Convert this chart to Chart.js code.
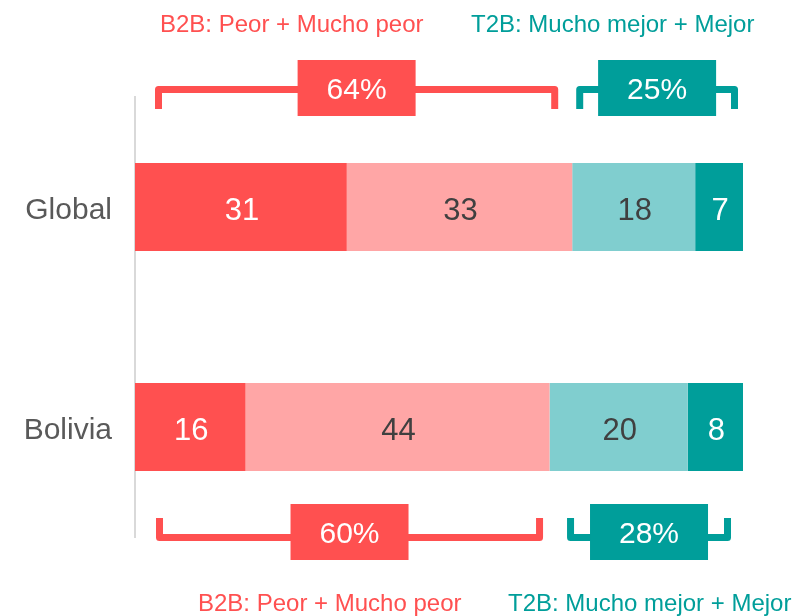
<!DOCTYPE html>
<html lang="es">
<head>
  <meta charset="UTF-8">
  <title>Global vs Bolivia</title>
  <script src="https://cdn.jsdelivr.net/npm/chart.js"></script>
  <style>
    html, body { margin: 0; padding: 0; background: #fff; }
    #wrap { width: 794px; height: 616px; }
  </style>
</head>
<body>
  <div id="wrap"><canvas id="chart" width="794" height="616"></canvas></div>

  <script>
    // values
    const categories = ['Global', 'Bolivia'];
    const seriesNames = ['Mucho peor', 'Peor', 'Mejor', 'Mucho mejor'];
    const muchoPeor = [31, 16];
    const peor = [33, 44];
    const mejor = [18, 20];
    const muchoMejor = [7, 8];
    const b2b = [64, 60];
    const t2b = [25, 28];

    const colors = ['#FF5050', '#FFA6A6', '#80CECF', '#009E9A'];
    const labelColors = ['#FFFFFF', '#404040', '#404040', '#FFFFFF'];
    const FONT = '"Liberation Sans", Arial, sans-serif';

    // each bar is drawn as a 100% stack of its row
    const series = [muchoPeor, peor, mejor, muchoMejor];
    const rowTotals = categories.map((c, i) => series.reduce((s, arr) => s + arr[i], 0));

    const datasets = series.map((arr, k) => ({
      label: seriesNames[k],
      data: arr.map((v, i) => v / rowTotals[i] * 100),
      raw: arr,
      backgroundColor: colors[k],
      borderWidth: 0,
      barPercentage: 0.4,
      categoryPercentage: 1
    }));

    // bracket offsets from segment edges (px), top one for Global, bottom one for Bolivia
    const bracketInsets = [
      { red: [23.5, -17.5], teal: [7.5, -8.5] },
      { red: [24.5, -10], teal: [21, -15.5] }
    ];

    function drawBracket(ctx, x1, x2, lineY, legY, color, text, boxCy) {
      ctx.save();
      ctx.strokeStyle = color;
      ctx.lineWidth = 7;
      ctx.lineJoin = 'round';
      ctx.beginPath();
      ctx.moveTo(x1, legY);
      ctx.lineTo(x1, lineY);
      ctx.lineTo(x2, lineY);
      ctx.lineTo(x2, legY);
      ctx.stroke();
      const cx = (x1 + x2) / 2;
      ctx.fillStyle = color;
      ctx.fillRect(cx - 59, boxCy - 28, 118, 56);
      ctx.fillStyle = '#FFFFFF';
      ctx.font = '30px ' + FONT;
      ctx.textAlign = 'center';
      ctx.textBaseline = 'alphabetic';
      ctx.fillText(text, cx, boxCy + 11);
      ctx.restore();
    }

    const overlay = {
      id: 'overlay',
      afterDatasetsDraw(chart) {
        const ctx = chart.ctx;
        // numbers inside segments
        ctx.save();
        ctx.font = '31px ' + FONT;
        ctx.textAlign = 'center';
        ctx.textBaseline = 'alphabetic';
        chart.data.datasets.forEach((ds, k) => {
          chart.getDatasetMeta(k).data.forEach((bar, i) => {
            const p = bar.getProps(['x', 'y', 'base'], true);
            ctx.fillStyle = labelColors[k];
            ctx.fillText(String(ds.raw[i]), (p.x + p.base) / 2 + 1, p.y + 13);
          });
        });
        ctx.restore();

        // brackets
        categories.forEach((c, i) => {
          const first = chart.getDatasetMeta(0).data[i].getProps(['x', 'y', 'base'], true);
          const mid = chart.getDatasetMeta(1).data[i].getProps(['x'], true);
          const last = chart.getDatasetMeta(3).data[i].getProps(['x'], true);
          const ins = bracketInsets[i];
          const above = i === 0;
          const lineY = above ? first.y - 117.5 : first.y + 110.5;
          const legY = above ? first.y - 98 : first.y + 91;
          const boxCy = above ? first.y - 119 : first.y + 105;
          drawBracket(ctx, first.base + ins.red[0], mid.x + ins.red[1], lineY, legY,
            colors[0], b2b[i] + '%', boxCy);
          drawBracket(ctx, mid.x + ins.teal[0], last.x + ins.teal[1], lineY, legY,
            colors[3], t2b[i] + '%', boxCy);
        });

        // group captions
        ctx.save();
        ctx.font = '24px ' + FONT;
        ctx.textAlign = 'left';
        ctx.textBaseline = 'alphabetic';
        ctx.fillStyle = colors[0];
        ctx.fillText('B2B: Peor + Mucho peor', 160, 32);
        ctx.fillText('B2B: Peor + Mucho peor', 198, 611);
        ctx.fillStyle = colors[3];
        ctx.fillText('T2B: Mucho mejor + Mejor', 471, 32);
        ctx.fillText('T2B: Mucho mejor + Mejor', 508, 611);
        ctx.restore();
      }
    };

    new Chart(document.getElementById('chart'), {
      type: 'bar',
      data: { labels: categories, datasets: datasets },
      options: {
        indexAxis: 'y',
        responsive: false,
        animation: false,
        devicePixelRatio: 1,
        layout: { padding: { top: 97, bottom: 79, right: 51, left: 0 } },
        plugins: { legend: { display: false }, tooltip: { enabled: false } },
        scales: {
          x: { stacked: true, display: false, min: 0, max: 100 },
          y: {
            stacked: true,
            grid: { display: false, drawTicks: false },
            border: { display: true, color: '#D9D9D9', width: 2 },
            ticks: {
              color: '#595959',
              padding: 23,
              labelOffset: 4,
              font: { family: FONT, size: 30 }
            },
            afterFit(scale) { scale.width = 135; }
          }
        }
      },
      plugins: [overlay]
    });
  </script>
</body>
</html>
